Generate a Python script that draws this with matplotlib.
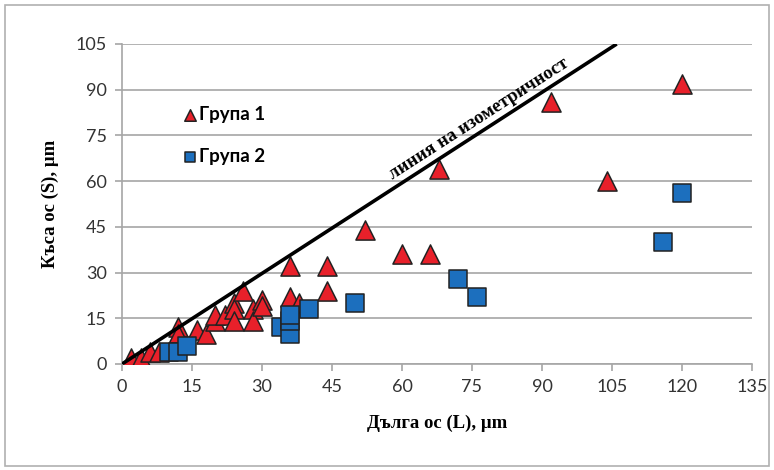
import numpy as np
import matplotlib.pyplot as plt
from matplotlib.patches import Rectangle

# Група 1 (triangles)
g1_L = [2, 4, 6, 8, 12, 12, 16, 18, 20, 20, 22, 24, 24, 24, 26, 28, 28, 30, 30,
        36, 36, 38, 44, 44, 52, 60, 66, 68, 92, 104, 120]
g1_S = [2, 2, 4, 4, 12, 10, 11, 10, 14, 16, 16, 20, 18, 14, 24, 18, 14, 21, 19,
        32, 22, 20, 32, 24, 44, 36, 36, 64, 86, 60, 92]

# Група 2 (squares)
g2_L = [10, 12, 14, 34, 36, 36, 36, 40, 50, 72, 76, 116, 120]
g2_S = [4, 4, 6, 12, 10, 14, 16, 18, 20, 28, 22, 40, 56]

# isometry line end points
iso_L = [0, 106]
iso_S = [0, 105]

ticks = np.arange(0, 136, 15)
yticks = np.arange(0, 106, 15)

fig = plt.figure(figsize=(7.74, 4.70), dpi=100)
ax = fig.add_axes([122 / 774, 1 - 364 / 470, 630 / 774, 320 / 470])

# light frame around the whole chart
fig.patches.append(Rectangle((5 / 774, 4 / 470), 764 / 774, 461 / 470,
                             transform=fig.transFigure, fill=False,
                             edgecolor="#b0b0b0", linewidth=1.2))

ax.scatter(g1_L, g1_S, marker="^", s=190, color="#e8202a", edgecolor="#222222",
           linewidth=1.1, zorder=3, label="Група 1")
ax.scatter(g2_L, g2_S, marker="s", s=150, color="#1c6fbe", edgecolor="#222222",
           linewidth=1.1, zorder=4, label="Група 2")
ax.plot(iso_L, iso_S, color="black", linewidth=2.6, zorder=5, solid_capstyle="butt")

ax.text(77.5, 78, "линия на изометричност", rotation=32.8, rotation_mode="anchor",
        ha="center", va="bottom", fontsize=13.5, fontweight="bold",
        family="Liberation Serif", zorder=6)

ax.set_xlim(0, 135)
ax.set_ylim(0, 105)
ax.set_xticks(ticks)
ax.set_yticks(yticks)
ax.grid(axis="y", color="#a6a6a6", linewidth=1.2)
ax.set_axisbelow(True)
for side in ["top", "right"]:
    ax.spines[side].set_visible(False)
for side in ["left", "bottom"]:
    ax.spines[side].set_color("#a6a6a6")
    ax.spines[side].set_linewidth(1.2)
ax.tick_params(axis="both", colors="#a6a6a6", length=5, width=1.2,
               labelcolor="#333333", labelsize=13, pad=6)
for lbl in ax.get_xticklabels() + ax.get_yticklabels():
    lbl.set_family("Lato")

ax.set_xlabel("Дълга ос (L), μm", family="Liberation Serif", fontweight="bold",
              fontsize=13.5, labelpad=14)
ax.set_ylabel("Къса ос (S), μm", family="Liberation Serif", fontweight="bold",
              fontsize=13.5, labelpad=12)

ax.legend(loc="upper left", bbox_to_anchor=(0.066, 0.86), frameon=False,
          markerscale=0.6, handletextpad=0.0, labelspacing=1.35, handlelength=1.0,
          prop={"family": "Lato", "weight": "bold", "size": 13.5})

fig.savefig("out.png", dpi=100)
